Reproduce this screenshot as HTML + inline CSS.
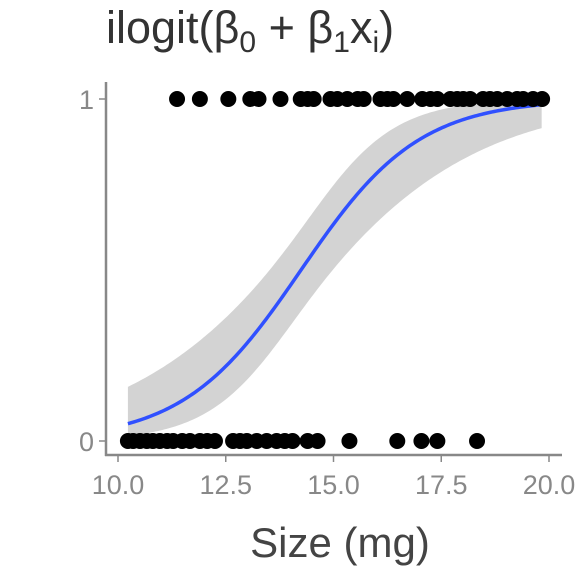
<!DOCTYPE html>
<html><head><meta charset="utf-8"><style>
body{margin:0;background:#fff}
svg{display:block;font-family:"Liberation Sans",sans-serif}
</style></head><body>
<svg id="c" width="576" height="576">
<text x="106" y="43" font-size="45" fill="#333">ilogit(β<tspan font-size="30" dy="9">0</tspan><tspan dy="-9"> + β</tspan><tspan font-size="30" dy="9">1</tspan><tspan dy="-9">x</tspan><tspan font-size="30" dy="9">i</tspan><tspan dy="-9">)</tspan></text>
<g id="band"></g><g id="line"></g><g id="pts"></g>
<line x1="106" y1="82" x2="106" y2="456" stroke="#888" stroke-width="2.5"/>
<line x1="105" y1="455" x2="562" y2="455" stroke="#888" stroke-width="2.5"/>
<g id="ticks"></g>
<text x="340" y="557" font-size="42" fill="#444" text-anchor="middle">Size (mg)</text>
</svg>
<script>
const yesX=[11.37,11.9,12.56,13.07,13.26,13.77,14.24,14.4,14.54,14.93,15.09,15.32,15.56,15.7,16.09,16.25,16.39,16.71,17.06,17.25,17.41,17.71,17.87,18.01,18.17,18.47,18.63,18.8,19.03,19.26,19.4,19.63,19.84];
const noX=[10.23,10.35,10.51,10.67,10.81,10.97,11.14,11.28,11.49,11.67,11.9,12.07,12.25,12.67,12.83,12.99,13.22,13.45,13.68,13.87,14.05,14.4,14.63,15.37,16.48,17.04,17.41,18.33];
const xTicks=[10,12.5,15,17.5,20];
const xTickLabels=["10.0","12.5","15.0","17.5","20.0"];
const yTicks=[0,1];
const coef=[-10.4,0.73];
const seParams=[0.0625,0.022,14.23];
const X=v=>118+(v-10)*43.1, Y=p=>441-p*342;
const ns="http://www.w3.org/2000/svg";
function mk(t,a,parent){const e=document.createElementNS(ns,t);for(const k in a)e.setAttribute(k,a[k]);document.getElementById(parent).appendChild(e);return e;}
const il=z=>1/(1+Math.exp(-z));
let up=[],lo=[],ln=[];
for(let x=10.23;x<=19.86;x+=0.05){const z=coef[0]+coef[1]*x,se=Math.sqrt(seParams[0]+seParams[1]*(x-seParams[2])**2);
up.push(X(x)+","+Y(il(z+1.96*se)));lo.unshift(X(x)+","+Y(il(z-1.96*se)));ln.push(X(x)+","+Y(il(z)));}
let b=mk('polygon',{points:up.concat(lo).join(' '),fill:'#d3d3d3'},'band');


let l=mk('polyline',{points:ln.join(' '),fill:'none',stroke:'#3050ff','stroke-width':3.5},'line');


yesX.forEach(v=>{const c=mk('circle',{cx:X(v),cy:Y(1),r:8,fill:'#000'},'pts');

});
noX.forEach(v=>{const c=mk('circle',{cx:X(v),cy:Y(0),r:8,fill:'#000'},'pts');

});
xTicks.forEach((v,i)=>{mk('line',{x1:X(v),x2:X(v),y1:456,y2:462,stroke:'#888','stroke-width':1.5},'ticks');
const t=mk('text',{x:X(v),y:494,'font-size':27,fill:'#888','text-anchor':'middle'},'ticks');t.textContent=xTickLabels[i];

});
yTicks.forEach(v=>{mk('line',{x1:99,x2:105,y1:Y(v),y2:Y(v),stroke:'#888','stroke-width':1.5},'ticks');
const t=mk('text',{x:94,y:Y(v)+10,'font-size':27,fill:'#888','text-anchor':'end'},'ticks');t.textContent=v;

});
</script>
</body></html>
